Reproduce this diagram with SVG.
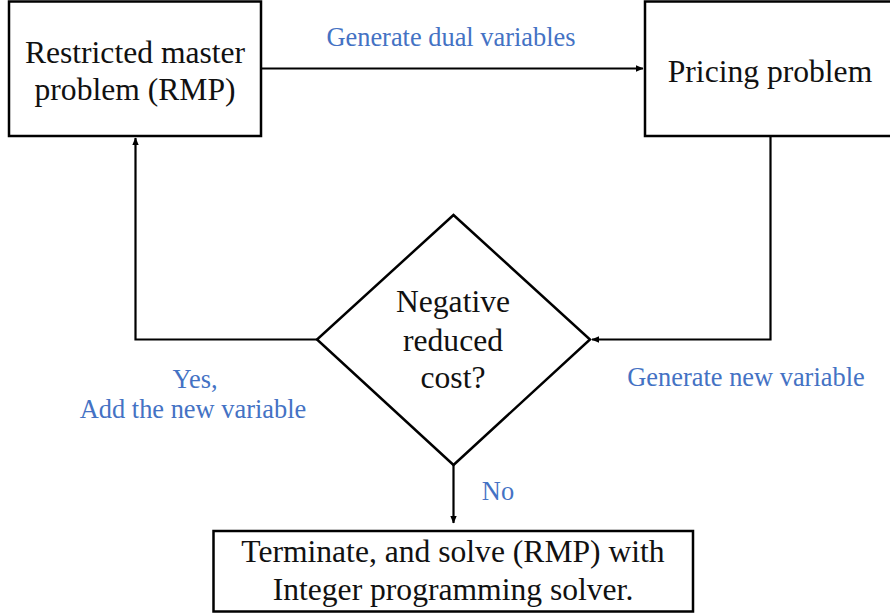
<svg xmlns="http://www.w3.org/2000/svg" width="890" height="615" viewBox="0 0 890 615">
<defs>
<marker id="arr" markerWidth="8" markerHeight="8" refX="7" refY="4" orient="auto" markerUnits="userSpaceOnUse">
<path d="M0,0.8 L7.5,4 L0,7.2 Z" fill="#000"/>
</marker>
<style>
.box{fill:#fff;stroke:#000;stroke-width:2.5}
.t{font-family:"Liberation Serif","Times New Roman",serif;font-size:31.6px;fill:#111;text-anchor:middle}
.l{font-family:"Liberation Serif","Times New Roman",serif;font-size:26.4px;fill:#4472C4;text-anchor:middle}
.c{fill:none;stroke:#000;stroke-width:2.2}
</style>
</defs>
<rect width="890" height="615" fill="#fff"/>
<g id="connectors">
<path class="c" d="M261,68.5 H643" marker-end="url(#arr)"/>
<path class="c" d="M770.5,136 V339.5 H592" marker-end="url(#arr)"/>
<path class="c" d="M317,339.5 H135.5 V138" marker-end="url(#arr)"/>
<path class="c" d="M453.5,465 V523" marker-end="url(#arr)"/>
</g>
<g id="labels">
<text class="l" x="451" y="46">Generate dual variables</text>
<text class="l" x="746" y="386">Generate new variable</text>
<text class="l" x="195" y="388">Yes,</text>
<text class="l" x="193" y="418">Add the new variable</text>
<text class="l" x="498" y="500">No</text>
</g>
<g id="rmp">
<rect class="box" x="9" y="1.5" width="252" height="134.5"/>
<text class="t" x="135" y="63">Restricted master</text>
<text class="t" x="135" y="100">problem (RMP)</text>
</g>
<g id="pricing">
<rect class="box" x="645" y="1.5" width="260" height="134.5"/>
<text class="t" x="770" y="82">Pricing problem</text>
</g>
<g id="decision">
<polygon class="box" points="453.5,215 590,339.5 453.5,465 317,339.5"/>
<text class="t" x="453" y="312">Negative</text>
<text class="t" x="453" y="351">reduced</text>
<text class="t" x="453" y="388">cost?</text>
</g>
<g id="terminate">
<rect class="box" x="213.5" y="531" width="479.5" height="80.5"/>
<text class="t" x="453" y="562">Terminate, and solve (RMP) with</text>
<text class="t" x="453" y="600">Integer programming solver.</text>
</g>
</svg>
